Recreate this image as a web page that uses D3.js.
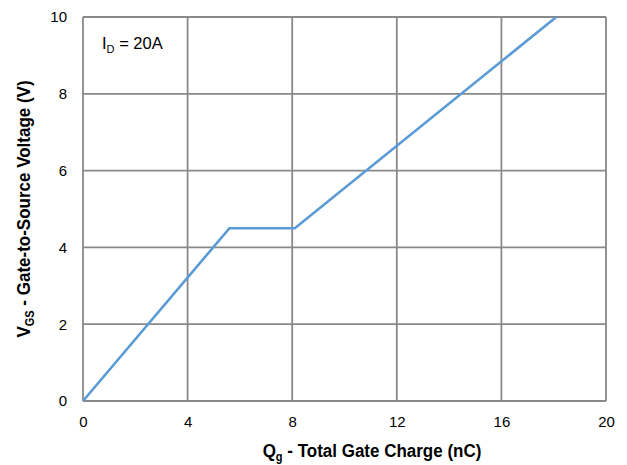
<!DOCTYPE html>
<html>
<head>
<meta charset="utf-8">
<script src="https://cdn.jsdelivr.net/npm/d3@7"></script>
<style>
  body { margin: 0; background: #fff; }
  svg text { font-family: "Liberation Sans", Arial, sans-serif; fill: #000; }
</style>
</head>
<body>
<div id="chart"></div>
<script>
// Gate charge curve, I_D = 20A
const qg = [0, 5.6, 8.1, 18.1];
const vgs = [0, 4.5, 4.5, 10];
const xTicks = [0, 4, 8, 12, 16, 20];
const yTicks = [0, 2, 4, 6, 8, 10];

const width = 627, height = 465;
const margin = {top: 17, right: 21, bottom: 64, left: 83};
const w = width - margin.left - margin.right;
const h = height - margin.top - margin.bottom;

const svg = d3.select("#chart").append("svg")
    .attr("width", width)
    .attr("height", height);

const g = svg.append("g")
    .attr("transform", `translate(${margin.left},${margin.top})`);

const x = d3.scaleLinear().domain([0, 20]).range([0, w]);
const y = d3.scaleLinear().domain([0, 10]).range([h, 0]);

const gridColor = "#898989";

// grid lines
g.selectAll(".vgrid").data(xTicks).enter().append("line")
    .attr("x1", d => x(d)).attr("x2", d => x(d))
    .attr("y1", 0).attr("y2", h)
    .attr("stroke", gridColor).attr("stroke-width", 1.8);

g.selectAll(".hgrid").data(yTicks).enter().append("line")
    .attr("x1", 0).attr("x2", w)
    .attr("y1", d => y(d)).attr("y2", d => y(d))
    .attr("stroke", gridColor).attr("stroke-width", 1.8);

// tick labels via d3 axes (no axis lines)
const xAxis = g.append("g")
    .attr("transform", `translate(0,${h})`)
    .call(d3.axisBottom(x).tickValues(xTicks).tickSize(0).tickPadding(15));
const yAxis = g.append("g")
    .call(d3.axisLeft(y).tickValues(yTicks).tickSize(0).tickPadding(16));
[xAxis, yAxis].forEach(a => {
    a.select(".domain").remove();
    a.selectAll("text")
        .style("font-family", "'Liberation Sans', Arial, sans-serif")
        .style("font-size", "15px")
        .attr("fill", "#000");
});

// curve
const line = d3.line()
    .x((d, i) => x(qg[i]))
    .y((d, i) => y(vgs[i]));

g.append("path")
    .datum(qg)
    .attr("d", line)
    .attr("fill", "none")
    .attr("stroke", "#5B9BD5")
    .attr("stroke-width", 2.6);

// annotation
const ann = g.append("text")
    .attr("x", 19).attr("y", 32)
    .style("font-size", "16.5px");
ann.append("tspan").text("I");
ann.append("tspan").attr("dy", 4).style("font-size", "11px").text("D");
ann.append("tspan").attr("dy", -4).text(" = 20A");

// x title
const xt = svg.append("text")
    .attr("transform", "translate(372,457) scale(1,1.12)")
    .attr("text-anchor", "middle")
    .style("font-size", "17px")
    .style("font-weight", "bold");
xt.append("tspan").text("Q");
xt.append("tspan").attr("dy", 4).style("font-size", "11px").text("g");
xt.append("tspan").attr("dy", -4).text(" - Total Gate Charge (nC)");

// y title
const yt = svg.append("text")
    .attr("transform", `translate(29.5,${margin.top + h / 2}) rotate(-90) scale(1,1.12)`)
    .attr("text-anchor", "middle")
    .style("font-size", "17px")
    .style("font-weight", "bold");
yt.append("tspan").text("V");
yt.append("tspan").attr("dy", 4).style("font-size", "11px").text("GS");
yt.append("tspan").attr("dy", -4).text(" - Gate-to-Source Voltage (V)");
</script>
</body>
</html>
